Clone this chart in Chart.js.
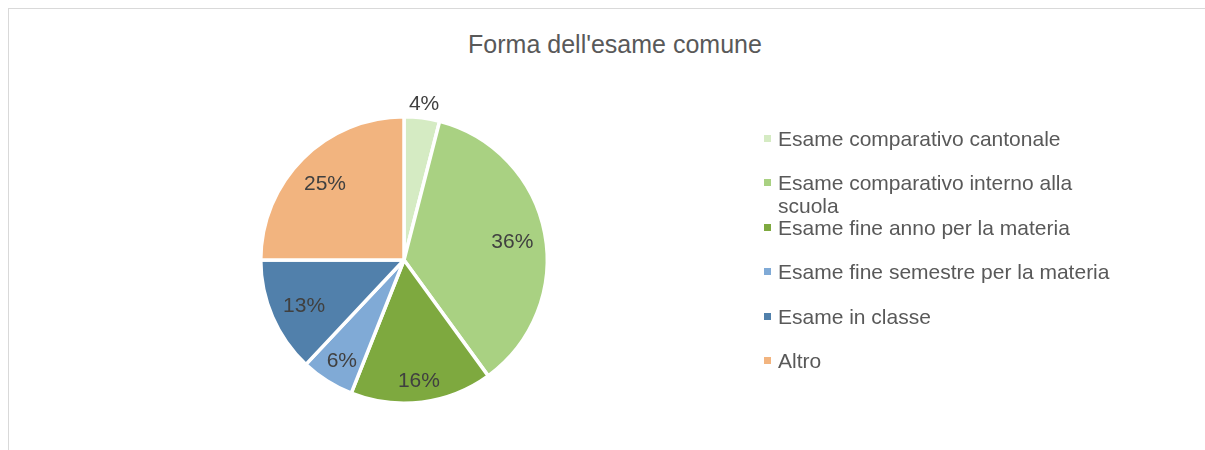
<!DOCTYPE html>
<html lang="it">
<head>
<meta charset="utf-8">
<title>Forma dell'esame comune</title>
<script src="https://cdn.jsdelivr.net/npm/chart.js@4.4.1/dist/chart.umd.min.js"></script>
<style>
	html, body { margin: 0; padding: 0; background: #fff; overflow: hidden; }
	body { width: 1205px; height: 450px; position: relative; font-family: "Liberation Sans", Arial, sans-serif; }
	#frame { position: absolute; left: 8px; top: 8px; width: 1300px; height: 500px; border: 1px solid #d9d9d9; }
	#title { position: absolute; left: 8px; width: 1214px; top: 29px; text-align: center; font-size: 25px; color: #595959; line-height: 30px; }
	#chartBox { position: absolute; left: 0; top: 0; width: 1205px; height: 450px; }
	#legend { position: absolute; left: 764px; top: 127px; margin: 0; padding: 0; list-style: none; }
	#legend li { position: relative; height: 44.4px; line-height: 23px; font-size: 21px; color: #595959; padding-left: 14px; width: 345px; }
	#legend li span.box { position: absolute; left: 0; top: 8px; width: 7px; height: 7px; }
</style>
</head>
<body>
<div id="frame"></div>
<div id="title">Forma dell'esame comune</div>
<div id="chartBox"><canvas id="pieChart"></canvas></div>
<ul id="legend"></ul>
<script>
const categories = [
	'Esame comparativo cantonale',
	'Esame comparativo interno alla scuola',
	'Esame fine anno per la materia',
	'Esame fine semestre per la materia',
	'Esame in classe',
	'Altro'
];
const percentages = [4, 36, 16, 6, 13, 25];
const sliceColors = ['#d5ebc3', '#a9d182', '#7ea93f', '#80aad6', '#5180ab', '#f2b47f'];
// how far from the centre each label sits, as a share of the radius
const labelRadius = [1.12, 0.77, 0.83, 0.81, 0.76, 0.78];

function buildLegend() {
	const legend = document.getElementById('legend');
	categories.forEach((name, i) => {
		const li = document.createElement('li');
		li.innerHTML = `<span class="box" style="background:${sliceColors[i]}"></span>${name}`;
		legend.appendChild(li);
	});
}

const pieLabels = {
	id: 'pieLabels',
	afterDatasetsDraw(chart) {
		const ctx = chart.ctx;
		const meta = chart.getDatasetMeta(0);
		ctx.save();
		ctx.font = '21px "Liberation Sans", Arial, sans-serif';
		ctx.fillStyle = '#404040';
		ctx.textAlign = 'center';
		ctx.textBaseline = 'middle';
		meta.data.forEach((arc, i) => {
			const p = arc.getProps(['x', 'y', 'startAngle', 'endAngle', 'outerRadius'], true);
			const mid = (p.startAngle + p.endAngle) / 2;
			const r = p.outerRadius * labelRadius[i];
			ctx.fillText(percentages[i] + '%', p.x + Math.cos(mid) * r, p.y + Math.sin(mid) * r + 3);
		});
		ctx.restore();
	}
};

function createChart() {
	const ctx = document.getElementById('pieChart').getContext('2d');
	new Chart(ctx, {
		type: 'pie',
		data: {
			labels: categories,
			datasets: [{
				data: percentages,
				backgroundColor: sliceColors,
				borderColor: '#ffffff',
				borderWidth: 3.5
			}]
		},
		options: {
			responsive: true,
			maintainAspectRatio: false,
			animation: false,
			layout: {
				padding: { left: 259, right: 656, top: 115, bottom: 45 }
			},
			plugins: {
				legend: { display: false },
				title: { display: false },
				tooltip: { enabled: false }
			}
		},
		plugins: [pieLabels]
	});
}

document.addEventListener('DOMContentLoaded', () => {
	buildLegend();
	createChart();
});
</script>
</body>
</html>
